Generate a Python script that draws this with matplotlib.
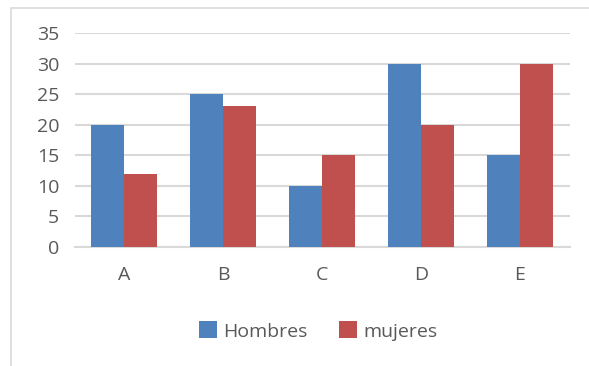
import numpy as np
import matplotlib.pyplot as plt
from matplotlib.patches import Rectangle

categories = ['A', 'B', 'C', 'D', 'E']
hombres = [20, 25, 10, 30, 15]
mujeres = [12, 23, 15, 20, 30]
yticks = [0, 5, 10, 15, 20, 25, 30, 35]

blue = '#4F81BD'
red = '#C0504D'
txt = '#595959'
grid_c = '#D9D9D9'

plt.rcParams.update({'font.family': ['Open Sans', 'DejaVu Sans']})

fig = plt.figure(figsize=(5.89, 3.66), dpi=100)
ax = fig.add_axes([0.1265, 0.3251, 0.8404, 0.5847])

x = np.arange(len(categories))
w = 0.333
ax.bar(x - w / 2, hombres, w, color=blue, label='Hombres', zorder=3)
ax.bar(x + w / 2, mujeres, w, color=red, label='mujeres', zorder=3)

ax.set_xlim(-0.5, len(categories) - 0.5)
ax.set_ylim(0, 35)
ax.set_yticks(yticks)
ax.set_xticks(x)
ax.set_xticklabels(categories)
ax.yaxis.grid(True, color=grid_c, linewidth=1.5, zorder=0)
ax.set_axisbelow(True)
for s in ['top', 'right', 'left']:
    ax.spines[s].set_visible(False)
ax.spines['bottom'].set_color(grid_c)
ax.spines['bottom'].set_linewidth(1.5)
ax.tick_params(axis='both', length=0, labelsize=14, colors=txt)
ax.tick_params(axis='y', pad=11)
ax.tick_params(axis='x', pad=14)

leg = fig.legend(loc='center', bbox_to_anchor=(318 / 589, 1 - 331 / 366), ncol=2,
                 frameon=False, fontsize=14, handlelength=0.95, handleheight=0.95,
                 handletextpad=0.3, columnspacing=1.6)
for t in leg.get_texts():
    t.set_color(txt)

# outer chart frame (cut off on the right and bottom)
fig.patches.append(Rectangle((10.5 / 589, -0.1), 1.2, 1.1 - 7.5 / 366,
                             transform=fig.transFigure, fill=False,
                             edgecolor='#D9D9D9', linewidth=1.2))

fig.savefig('out.png', dpi=100)
